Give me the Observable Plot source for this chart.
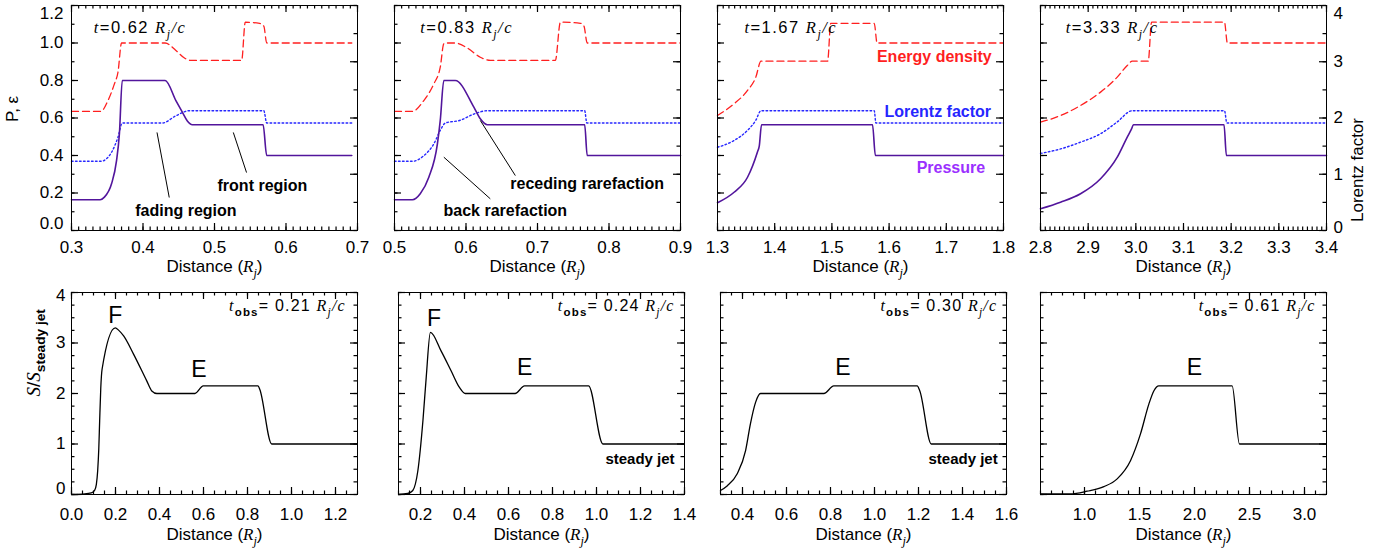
<!DOCTYPE html>
<html><head><meta charset="utf-8">
<script src="https://cdn.jsdelivr.net/npm/d3@7"></script>
<script src="https://cdn.jsdelivr.net/npm/@observablehq/plot@0.6"></script>
<style>
body{margin:0;background:#fff;}
#root{position:relative;width:1382px;height:555px;overflow:hidden;background:#fff;}
#root svg{position:absolute;}
</style></head><body><div id="root"></div>
<script>
// ---------------- DATA ----------------
// Top row: energy density (P units), Lorentz factor (own units), pressure (P units)
// t = 0.62
const energyX_a = [0.300,0.341,0.351,0.360,0.365,0.370,0.431,0.446,0.458,0.467,0.538,0.543,0.563,0.569,0.573,0.692];
const energy_a  = [0.635,0.635,0.693,0.782,0.844,1.000,1.000,0.960,0.920,0.907,0.907,1.111,1.105,1.090,1.000,1.000];
const lorentzX_a = [0.300,0.341,0.356,0.365,0.371,0.427,0.446,0.465,0.569,0.573,0.692];
const lorentz_a  = [1.23,1.23,1.39,1.66,1.91,1.91,2.04,2.13,2.13,1.91,1.91];
const pressureX_a = [0.300,0.340,0.346,0.356,0.363,0.367,0.371,0.431,0.446,0.455,0.462,0.469,0.568,0.573,0.692];
const pressure_a  = [0.164,0.164,0.178,0.249,0.373,0.516,0.800,0.800,0.693,0.631,0.584,0.564,0.564,0.400,0.400];
// t = 0.83
const energyX_b = [0.500,0.525,0.541,0.555,0.564,0.569,0.575,0.585,0.602,0.620,0.634,0.725,0.732,0.760,0.765,0.7695,0.900];
const energy_b  = [0.635,0.635,0.693,0.782,0.871,0.996,1.000,1.000,0.973,0.924,0.907,0.907,1.111,1.105,1.090,1.000,1.000];
const lorentzX_b = [0.500,0.525,0.541,0.555,0.564,0.571,0.592,0.611,0.630,0.766,0.769,0.900];
const lorentz_b  = [1.23,1.23,1.33,1.54,1.78,1.91,1.96,2.07,2.13,2.13,1.91,1.91];
const pressureX_b = [0.500,0.525,0.536,0.548,0.560,0.564,0.569,0.585,0.611,0.620,0.630,0.766,0.7695,0.900];
const pressure_b  = [0.164,0.164,0.196,0.284,0.462,0.587,0.800,0.800,0.658,0.596,0.564,0.564,0.400,0.400];
// t = 1.67
const energyX_c = [1.300,1.329,1.3525,1.367,1.376,1.4925,1.498,1.574,1.579,1.800];
const energy_c  = [0.613,0.676,0.747,0.818,0.903,0.903,1.105,1.105,1.000,1.000];
const lorentzX_c = [1.300,1.329,1.3525,1.367,1.376,1.574,1.577,1.800];
const lorentz_c  = [1.48,1.60,1.78,1.96,2.13,2.13,1.91,1.91];
const pressureX_c = [1.300,1.329,1.3525,1.370,1.373,1.377,1.571,1.576,1.800];
const pressure_c  = [0.148,0.204,0.284,0.420,0.450,0.564,0.564,0.400,0.400];
// t = 3.33
const energyX_d = [2.800,2.842,2.884,2.926,2.961,2.982,2.9925,3.026,3.033,3.186,3.192,3.400];
const energy_d  = [0.578,0.613,0.667,0.738,0.818,0.880,0.903,0.903,1.111,1.111,1.000,1.000];
const lorentzX_d = [2.800,2.842,2.884,2.926,2.961,2.9925,3.186,3.191,3.400];
const lorentz_d  = [1.37,1.45,1.57,1.72,1.93,2.13,2.13,1.91,1.91];
const pressureX_d = [2.800,2.842,2.884,2.926,2.961,2.982,2.991,2.995,3.185,3.190,3.400];
const pressure_d  = [0.116,0.151,0.196,0.276,0.391,0.498,0.542,0.564,0.564,0.400,0.400];

// Bottom row: S / S_steady jet
const fluxX_a = [0.000,0.060,0.090,0.105,0.113,0.119,0.124,0.128,0.133,0.139,0.199,0.215,0.237,0.282,0.342,0.365,0.388,0.561,0.599,0.848,0.856,0.910,1.300];
const flux_a  = [0.00,0.01,0.03,0.08,0.20,0.47,0.90,1.46,2.10,2.48,3.30,3.25,3.14,2.78,2.25,2.05,2.00,2.00,2.15,2.15,2.08,1.00,1.00];
const fluxX_b = [0.100,0.142,0.165,0.188,0.211,0.226,0.245,0.294,0.339,0.377,0.403,0.630,0.673,0.964,1.029,1.400];
const flux_b  = [0.00,0.02,0.08,0.47,1.46,2.32,3.21,2.84,2.45,2.12,2.00,2.00,2.15,2.15,1.00,1.00];
const fluxX_c = [0.300,0.330,0.376,0.414,0.436,0.459,0.482,0.770,0.815,1.194,1.206,1.258,1.600];
const flux_c  = [0.08,0.17,0.41,0.87,1.40,1.82,2.00,2.00,2.15,2.15,2.05,1.00,1.00];
const fluxX_d = [0.600,0.873,1.024,1.176,1.297,1.418,1.509,1.585,1.630,1.676,2.342,2.409,3.200];
const flux_d  = [0.01,0.01,0.065,0.156,0.31,0.67,1.20,1.79,2.05,2.15,2.15,1.00,1.00];

// Times and axis tick labels
const simTimes = ["0.62","0.83","1.67","3.33"];
const obsTimes = ["0.21","0.24","0.30","0.61"];
const topXDomains = [[0.3,0.7],[0.5,0.9],[1.3,1.8],[2.8,3.4]];
const topXTicks = [[0.3,0.4,0.5,0.6,0.7],[0.5,0.6,0.7,0.8,0.9],[1.3,1.4,1.5,1.6,1.7,1.8],[2.8,2.9,3.0,3.1,3.2,3.3,3.4]];
const botXDomains = [[0,1.3],[0.1,1.4],[0.3,1.6],[0.6,3.2]];
const botXTicks = [[0,0.2,0.4,0.6,0.8,1.0,1.2],[0.2,0.4,0.6,0.8,1.0,1.2,1.4],[0.4,0.6,0.8,1.0,1.2,1.4,1.6],[1.0,1.5,2.0,2.5,3.0]];
const botXMinorStep = [0.05,0.05,0.05,0.1];
const pTicks = [0,0.2,0.4,0.6,0.8,1.0,1.2];
const lorentzTicks = [0,1,2,3,4];
const sTicks = [0,1,2,3,4];

// Annotations (data coordinates)
const notesText_a = ["fading region","front region"], notesX_a = [0.460,0.567], notesY_a = [0.103,0.240];
const leadX1_a = [0.4196,0.5263], leadY1_a = [0.523,0.523], leadX2_a = [0.4367,0.5448], leadY2_a = [0.176,0.309];
const notesText_b = ["back rarefaction","receding rarefaction"], notesX_b = [0.655,0.7695], notesY_b = [0.103,0.249];
const leadX1_b = [0.569,0.620], leadY1_b = [0.391,0.587], leadX2_b = [0.634,0.669], leadY2_b = [0.169,0.293];
const seriesNames = ["Energy density","Lorentz factor","Pressure"], seriesNameX = [1.679,1.685,1.708], seriesNameY = [0.928,0.631,0.334];
const timeX = [0.331,0.536,1.347,2.853], timeY = 1.083;
const peakText = [["F","E"],["F","E"],["E"],["E"]];
const peakX = [[0.199,0.579],[0.262,0.673],[0.856],[2.0]];
const peakY = [[3.54,2.48],[3.48,2.52],[2.52],[2.52]];
const obsX = [1.247,1.355,1.558,3.10], obsY = 3.735;
const steadyX = [null,1.355,1.560,null], steadyY = 0.705;

// ---------------- STYLE / LAYOUT ----------------
const RED = "#ff1f1f", BLUE = "#2626ff", PURPLE = "#52159c", PURPLE_LABEL = "#9b30ff";
const L2P = 0.3; // Lorentz factor -> P axis units
const topFrames = [[71,357],[394,680],[717,1003],[1040,1326]];
const botFrames = [[71,357],[398,684],[720,1006],[1040,1326]];
const TOP_Y = 5, TOP_H = 225, BOT_Y = 292, BOT_H = 202;
const MAJOR = 7, MINOR = 3.5;
const FONT = "'Liberation Sans', Arial, Helvetica, sans-serif";
const root = document.getElementById("root");

const rows = (xs, ys, f = v => v) => xs.map((x, i) => ({x, y: f(ys[i])}));
const steps = (lo, hi, step) => d3.range(Math.ceil(lo / step - 1e-6), Math.floor(hi / step + 1e-6) + 1).map(k => +(k * step).toFixed(6));

// inward ticks on all four sides (IDL style): short rules, pixel lengths converted to data units
function frameTicks(fw, fh, xDom, yDom, xMajor, xMinor, yLMajor, yLMinor, yRMajor, yRMinor) {
  const o = {stroke: "#000", strokeWidth: 1.2};
  const ky = (yDom[1] - yDom[0]) / fh, kx = (xDom[1] - xDom[0]) / fw;
  const out = [];
  for (const [ticks, len] of [[xMajor, MAJOR], [xMinor, MINOR]]) {
    out.push(Plot.ruleX(ticks, {x: d => d, y1: yDom[0], y2: yDom[0] + len * ky, ...o}));
    out.push(Plot.ruleX(ticks, {x: d => d, y1: yDom[1] - len * ky, y2: yDom[1], ...o}));
  }
  for (const [ticks, len] of [[yLMajor, MAJOR], [yLMinor, MINOR]]) {
    out.push(Plot.ruleY(ticks, {y: d => d, x1: xDom[0], x2: xDom[0] + len * kx, ...o}));
  }
  for (const [ticks, len] of [[yRMajor, MAJOR], [yRMinor, MINOR]]) {
    out.push(Plot.ruleY(ticks, {y: d => d, x1: xDom[1] - len * kx, x2: xDom[1], ...o}));
  }
  return out;
}

function panel(fx, fy, fw, fh, xDomain, yDomain, marks) {
  const ML = 80, MR = 60, MT = 10, MB = 60;
  const svg = Plot.plot({
    width: ML + fw + MR, height: MT + fh + MB,
    marginLeft: ML, marginRight: MR, marginTop: MT, marginBottom: MB,
    x: {domain: xDomain, axis: null}, y: {domain: yDomain, axis: null},
    style: {background: "transparent", overflow: "visible", fontFamily: FONT, fontSize: "17px", color: "#000", maxWidth: "none"},
    marks
  });
  svg.style.left = (fx - ML) + "px";
  svg.style.top = (fy - MT) + "px";
  root.appendChild(svg);
}

const topData = [
  [energyX_a, energy_a, lorentzX_a, lorentz_a, pressureX_a, pressure_a],
  [energyX_b, energy_b, lorentzX_b, lorentz_b, pressureX_b, pressure_b],
  [energyX_c, energy_c, lorentzX_c, lorentz_c, pressureX_c, pressure_c],
  [energyX_d, energy_d, lorentzX_d, lorentz_d, pressureX_d, pressure_d]
];
const botData = [[fluxX_a, flux_a],[fluxX_b, flux_b],[fluxX_c, flux_c],[fluxX_d, flux_d]];
const distanceTitle = "Distance (<i>R</i><sub><i>j</i></sub>)";

// ---------------- TOP ROW ----------------
topData.forEach(([ex, ey, lx, ly, px, py], i) => {
  const [x0, x1] = topFrames[i];
  const fw = x1 - x0;
  const dom = topXDomains[i];
  const yDom = [0, 1.2];
  const marks = [
    Plot.line(rows(ex, ey), {x: "x", y: "y", stroke: RED, strokeWidth: 1.3, strokeDasharray: "7,4", curve: "monotone-x"}),
    Plot.line(rows(lx, ly, v => v * L2P), {x: "x", y: "y", stroke: BLUE, strokeWidth: 1.4, strokeDasharray: "1.6,2.4", curve: "monotone-x"}),
    Plot.line(rows(px, py), {x: "x", y: "y", stroke: PURPLE, strokeWidth: 1.6, curve: "monotone-x"}),
    Plot.frame({stroke: "#000"}),
    ...frameTicks(fw, TOP_H, dom, yDom, topXTicks[i], steps(dom[0], dom[1], 0.01),
      pTicks, steps(0, 1.2, 0.1),
      lorentzTicks.map(v => v * L2P), steps(0, 4, 0.5).map(v => v * L2P)),
    Plot.axisX(topXTicks[i], {anchor: "bottom", tickSize: 0, tickPadding: 10, tickFormat: d => d.toFixed(1), fontSize: 17, label: null}),
    Plot.text([distanceTitle], {frameAnchor: "bottom", dy: 41, text: d => d, fontSize: 17}),
    Plot.text([`<i>t</i>=${simTimes[i]} <i>R</i><sub><i>j</i></sub><i>/c</i>`], {x: [timeX[i]], y: [timeY], text: d => d, textAnchor: "start", fontSize: 16.5})
  ];
  if (i === 0) {
    marks.push(
      Plot.axisY(pTicks.slice(1, -1), {anchor: "left", tickSize: 0, tickPadding: 8, tickFormat: d => d.toFixed(1), fontSize: 17, label: null}),
      Plot.axisY([pTicks[0]], {anchor: "left", tickSize: 0, tickPadding: 8, tickFormat: d => d.toFixed(1), fontSize: 17, label: null, dy: -7}),
      Plot.axisY([pTicks[pTicks.length - 1]], {anchor: "left", tickSize: 0, tickPadding: 8, tickFormat: d => d.toFixed(1), fontSize: 17, label: null, dy: 8}),
      Plot.text(["P, ε"], {frameAnchor: "left", dx: -59, dy: 4, rotate: -90, text: d => d, fontSize: 17}),
      Plot.link(leadX1_a.map((_, k) => k), {x1: k => leadX1_a[k], y1: k => leadY1_a[k], x2: k => leadX2_a[k], y2: k => leadY2_a[k], stroke: "#000", strokeWidth: 1}),
      Plot.text(notesText_a, {x: notesX_a, y: notesY_a, text: d => d, fontSize: 16, fontWeight: "bold"})
    );
  }
  if (i === 1) {
    marks.push(
      Plot.link(leadX1_b.map((_, k) => k), {x1: k => leadX1_b[k], y1: k => leadY1_b[k], x2: k => leadX2_b[k], y2: k => leadY2_b[k], stroke: "#000", strokeWidth: 1}),
      Plot.text(notesText_b, {x: notesX_b, y: notesY_b, text: d => d, fontSize: 16, fontWeight: "bold"})
    );
  }
  if (i === 2) {
    marks.push(Plot.text(seriesNames, {x: seriesNameX, y: seriesNameY, text: d => d, fontSize: 16, fontWeight: "bold", fill: [RED, BLUE, PURPLE_LABEL]}));
  }
  if (i === 3) {
    const lt = lorentzTicks.map(v => v * L2P);
    const fmt = d => String(Math.round(d / L2P));
    marks.push(
      Plot.axisY(lt.slice(1, -1), {anchor: "right", tickSize: 0, tickPadding: 7, tickFormat: fmt, fontSize: 17, label: null}),
      Plot.axisY([lt[0]], {anchor: "right", tickSize: 0, tickPadding: 7, tickFormat: fmt, fontSize: 17, label: null, dy: -3}),
      Plot.axisY([lt[lt.length - 1]], {anchor: "right", tickSize: 0, tickPadding: 7, tickFormat: fmt, fontSize: 17, label: null, dy: 8}),
      Plot.text(["Lorentz factor"], {frameAnchor: "right", dx: 31, rotate: -90, text: d => d, fontSize: 17})
    );
  }
  panel(x0, TOP_Y, fw, TOP_H, dom, yDom, marks);
});

// ---------------- BOTTOM ROW ----------------
botData.forEach(([fx, fy], i) => {
  const [x0, x1] = botFrames[i];
  const fw = x1 - x0;
  const dom = botXDomains[i];
  const yDom = [0, 4];
  const sMinor = steps(0, 4, 0.25);
  const marks = [
    Plot.line(rows(fx, fy), {x: "x", y: "y", stroke: "#000", strokeWidth: 1.3, curve: "monotone-x"}),
    Plot.frame({stroke: "#000"}),
    ...frameTicks(fw, BOT_H, dom, yDom, botXTicks[i], steps(dom[0], dom[1], botXMinorStep[i]), sTicks, sMinor, sTicks, sMinor),
    Plot.axisX(botXTicks[i], {anchor: "bottom", tickSize: 0, tickPadding: 13, tickFormat: d => d.toFixed(1), fontSize: 17, label: null}),
    Plot.text([distanceTitle], {frameAnchor: "bottom", dy: 45, text: d => d, fontSize: 17}),
    Plot.text(peakText[i], {x: peakX[i], y: peakY[i], text: d => d, fontSize: 23}),
    Plot.text([`<i>t</i><sub><b>obs</b></sub>= ${obsTimes[i]} <i>R</i><sub><i>j</i></sub><i>/c</i>`], {x: [obsX[i]], y: [obsY], text: d => d, textAnchor: "end", fontSize: 16})
  ];
  if (steadyX[i] != null) {
    marks.push(Plot.text(["steady jet"], {x: [steadyX[i]], y: [steadyY], text: d => d, textAnchor: "end", fontSize: 15, fontWeight: "bold"}));
  }
  if (i === 0) {
    marks.push(
      Plot.axisY(sTicks.slice(1, -1), {anchor: "left", tickSize: 0, tickPadding: 6, tickFormat: d => String(d), fontSize: 17, label: null}),
      Plot.axisY([sTicks[0]], {anchor: "left", tickSize: 0, tickPadding: 6, tickFormat: d => String(d), fontSize: 17, label: null, dy: -6}),
      Plot.axisY([sTicks[sTicks.length - 1]], {anchor: "left", tickSize: 0, tickPadding: 6, tickFormat: d => String(d), fontSize: 17, label: null, dy: 3}),
      Plot.text(["<i>S</i>/<i>S</i><sub><b>steady jet</b></sub>"], {frameAnchor: "left", dx: -38, dy: 3, rotate: -90, text: d => d, fontSize: 19})
    );
  }
  panel(x0, BOT_Y, fw, BOT_H, dom, yDom, marks);
});

// ---------------- rich text (italic / bold / subscripts) ----------------
const NS = "http://www.w3.org/2000/svg";
function walk(node, st, el, base, state) {
  for (const c of node.childNodes) {
    if (c.nodeType === 3) {
      const ts = document.createElementNS(NS, "tspan");
      ts.textContent = c.textContent;
      if (st.i) { ts.setAttribute("font-style", "italic"); ts.setAttribute("font-family", "'Liberation Serif', 'Times New Roman', serif"); }
      if (st.b) ts.setAttribute("font-weight", "bold");
      const shift = st.sub ? base * 0.3 : 0;
      if (st.sub) ts.setAttribute("font-size", (base * 0.72).toFixed(1));
      if (shift !== state.shift) ts.setAttribute("dy", (shift - state.shift).toFixed(2));
      state.shift = shift;
      el.appendChild(ts);
    } else if (c.nodeType === 1) {
      const tag = c.tagName.toLowerCase();
      walk(c, {i: st.i || tag === "i", b: st.b || tag === "b", sub: st.sub || tag === "sub"}, el, base, state);
    }
  }
}
root.querySelectorAll("text").forEach(el => {
  if (el.querySelector("tspan")) return;
  const s = el.textContent;
  if (!s.includes("<")) return;
  const base = parseFloat(getComputedStyle(el).fontSize) || 16;
  const tmp = document.createElement("div");
  tmp.innerHTML = s;
  el.textContent = "";
  if (s.startsWith("<i>t</i>")) el.setAttribute("letter-spacing", s.includes("obs") ? "1.2" : "1.5");
  walk(tmp, {i: false, b: false, sub: false}, el, base, {shift: 0});
});
</script>
</body></html>
